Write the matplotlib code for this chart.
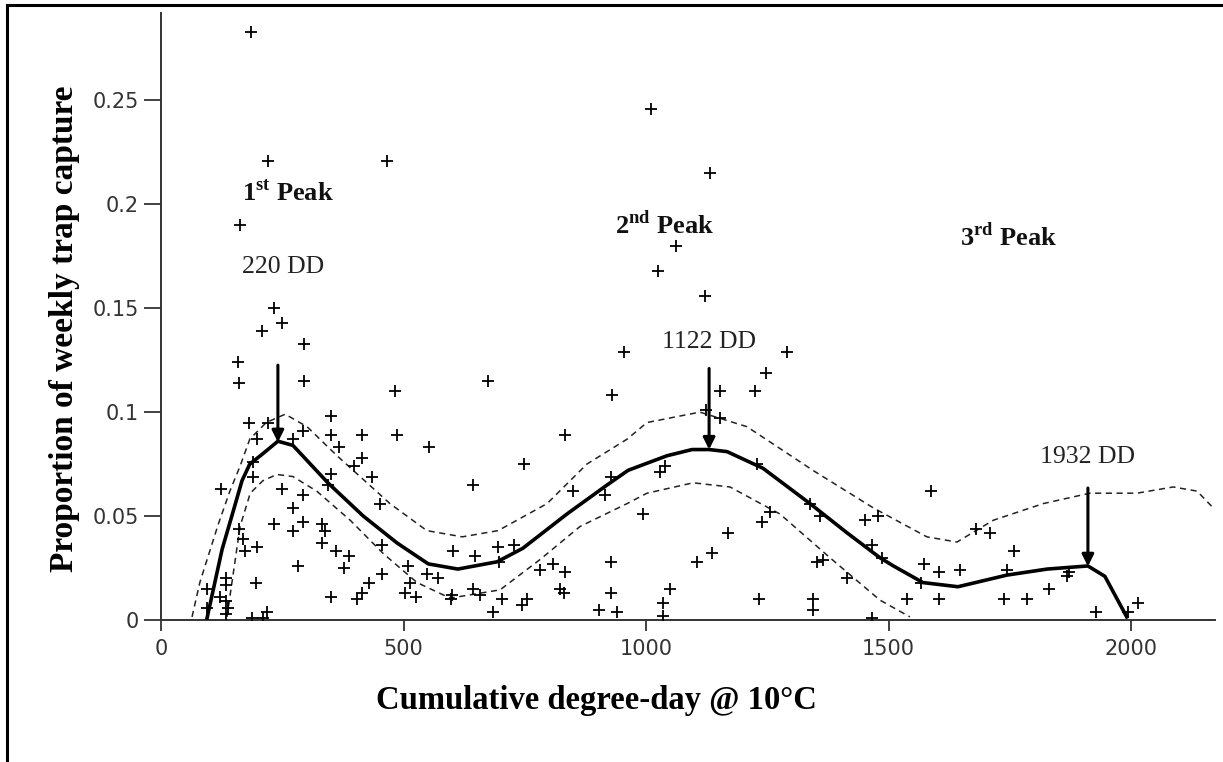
import matplotlib
matplotlib.use("Agg")
import matplotlib.pyplot as plt
from matplotlib.lines import Line2D

plt.rcParams['mathtext.fontset'] = 'custom'
plt.rcParams['mathtext.rm'] = 'Liberation Serif'
plt.rcParams['mathtext.bf'] = 'Liberation Serif:bold'

# ---- observed weekly trap capture (degree-days, proportion) ----
obs_dd = [186, 220, 466, 163, 233, 249, 208, 295, 159, 161, 295, 482, 674, 181, 221,
          351, 293, 198, 351, 414, 487, 553, 272, 367, 414, 398, 190, 189, 350, 344,
          435, 643, 124, 249, 293, 272, 452, 161, 233, 293, 272, 332, 338, 169, 173,
          198, 332, 361, 388, 456, 282, 377, 509, 602, 648, 695, 134, 134, 196, 95,
          456, 429, 513, 548, 571, 122, 134, 138, 134, 351, 414, 404, 503, 526, 600,
          643, 658, 685, 218, 187, 210, 95,
          930, 833, 748, 849, 928, 915, 728, 697, 781, 808, 833, 928, 598, 703, 755,
          745, 823, 831, 928, 903, 940,
          955, 1291, 1247, 1153, 1225, 1124, 1153, 1039, 1029, 1229, 1338, 1359, 994,
          1256, 1239, 1169, 1452, 1478, 1466, 1136, 1105, 1353, 1365, 1414, 1049, 1233,
          1344, 1344, 1035, 1035, 1466, 1010, 1132, 1062, 1025, 1122,
          1588, 1680, 1709, 1486, 1759, 1573, 1604, 1647, 1744, 1868, 1872, 1567, 1831,
          1538, 1604, 1738, 1786, 1928, 2014, 1994]
obs_prop = [0.283, 0.221, 0.221, 0.190, 0.150, 0.143, 0.139, 0.133, 0.124, 0.114, 0.115,
            0.110, 0.115, 0.095, 0.095, 0.098, 0.091, 0.087, 0.089, 0.089, 0.089, 0.083,
            0.087, 0.083, 0.078, 0.074, 0.076, 0.069, 0.070, 0.065, 0.069, 0.065, 0.063,
            0.063, 0.060, 0.054, 0.056, 0.044, 0.046, 0.047, 0.043, 0.046, 0.043, 0.039,
            0.033, 0.035, 0.037, 0.033, 0.031, 0.036, 0.026, 0.025, 0.026, 0.033, 0.031,
            0.035, 0.020, 0.017, 0.018, 0.015, 0.022, 0.018, 0.018, 0.022, 0.020, 0.011,
            0.009, 0.006, 0.003, 0.011, 0.013, 0.010, 0.013, 0.011, 0.012, 0.015, 0.012,
            0.004, 0.004, 0.001, 0.001, 0.006,
            0.108, 0.089, 0.075, 0.062, 0.069, 0.060, 0.036, 0.028, 0.024, 0.027, 0.023,
            0.028, 0.010, 0.010, 0.010, 0.007, 0.015, 0.013, 0.013, 0.005, 0.004,
            0.129, 0.129, 0.119, 0.110, 0.110, 0.101, 0.097, 0.074, 0.071, 0.075, 0.056,
            0.050, 0.051, 0.052, 0.047, 0.042, 0.048, 0.050, 0.036, 0.032, 0.028, 0.028,
            0.029, 0.020, 0.015, 0.010, 0.010, 0.005, 0.008, 0.002, 0.001, 0.246, 0.215,
            0.180, 0.168, 0.156,
            0.062, 0.044, 0.042, 0.030, 0.033, 0.027, 0.023, 0.024, 0.024, 0.021, 0.023,
            0.018, 0.015, 0.010, 0.010, 0.010, 0.010, 0.004, 0.008, 0.004]

# ---- fitted curve ----
fit_dd = [95, 126, 146, 167, 183, 210, 241, 272, 344, 417, 487, 551, 612, 693, 746, 837,
          920, 963, 1043, 1095, 1130, 1167, 1241, 1338, 1414, 1482, 1510, 1571, 1643,
          1744, 1827, 1911, 1946, 1991]
fit_prop = [0.001, 0.034, 0.050, 0.067, 0.075, 0.080, 0.086, 0.084, 0.066, 0.050, 0.037,
            0.027, 0.0245, 0.028, 0.0345, 0.051, 0.065, 0.072, 0.079, 0.082, 0.082, 0.081,
            0.073, 0.056, 0.042, 0.030, 0.026, 0.018, 0.016, 0.0216, 0.0245, 0.026, 0.021,
            0.0015]

# ---- upper confidence band ----
upper_dd = [64, 80, 118, 142, 163, 183, 217, 256, 301, 363, 472, 548, 621, 695, 796, 878,
            961, 1002, 1111, 1208, 1344, 1468, 1579, 1641, 1716, 1819, 1915, 2012, 2087,
            2136, 2169]
upper_prop = [0.0015, 0.018, 0.046, 0.062, 0.074, 0.087, 0.095, 0.099, 0.093, 0.079,
              0.056, 0.043, 0.040, 0.043, 0.056, 0.075, 0.087, 0.095, 0.100, 0.093, 0.072,
              0.054, 0.040, 0.0375, 0.048, 0.056, 0.061, 0.061, 0.064, 0.062, 0.054]

# ---- lower confidence band ----
lower_dd = [136, 163, 184, 210, 239, 272, 321, 390, 458, 528, 596, 699, 781, 864, 961,
            1002, 1097, 1173, 1276, 1379, 1482, 1544]
lower_prop = [0.0015, 0.045, 0.061, 0.067, 0.070, 0.069, 0.062, 0.048, 0.032, 0.018,
              0.0105, 0.0145, 0.029, 0.045, 0.056, 0.061, 0.066, 0.064, 0.051, 0.030,
              0.0096, 0.0015]

# ---- peak annotations ----
peak_titles = ['1', '2', '3']
peak_sups = ['st', 'nd', 'rd']
peak_title_x = [167, 936, 1647]
peak_title_y = [0.202, 0.186, 0.180]
peak_dd_labels = ['220 DD', '1122 DD', '1932 DD']
peak_label_x = [167, 1033, 1812]
peak_label_y = [0.167, 0.1308, 0.0755]
arrow_x = [241, 1130, 1911]
arrow_top = [0.1226, 0.121, 0.0635]
arrow_tip = [0.0855, 0.082, 0.0258]

x_ticks = [0, 500, 1000, 1500, 2000]
x_tick_labels = ['0', '500', '1000', '1500', '2000']
y_ticks = [0, 0.05, 0.1, 0.15, 0.2, 0.25]
y_tick_labels = ['0', '0.05', '0.1', '0.15', '0.2', '0.25']

W, H = 1223, 762
fig = plt.figure(figsize=(W / 100, H / 100), dpi=100)
ax = fig.add_axes([161 / W, 1 - 620 / H, (1215 - 161) / W, (620 - 13) / H])
ax.set_xlim(0, 2173)
ax.set_ylim(0, 0.292)

ax.plot(obs_dd, obs_prop, linestyle='none', marker='+', markersize=8.5,
        markeredgewidth=1.3, color='black', zorder=3)
ax.plot(fit_dd, fit_prop, color='black', lw=2.6, solid_joinstyle='round', zorder=4)
for xs, ys in [(upper_dd, upper_prop), (lower_dd, lower_prop)]:
    ln, = ax.plot(xs, ys, color='#222222', lw=1.1, zorder=2)
    ln.set_dashes((4, 3))

for x, top, tip in zip(arrow_x, arrow_top, arrow_tip):
    ax.annotate('', xy=(x, tip), xytext=(x, top),
                arrowprops=dict(arrowstyle='-|>,head_length=0.5,head_width=0.25',
                                lw=2.2, color='black', mutation_scale=14,
                                shrinkA=0, shrinkB=0), zorder=5)

for t, s, x, y in zip(peak_titles, peak_sups, peak_title_x, peak_title_y):
    ax.text(x, y, r'$\mathbf{' + t + r'}^{\mathbf{' + s + r'}}$ Peak',
            fontfamily='Liberation Serif', fontweight='bold', fontsize=19,
            ha='left', va='baseline', color='#111111')
for lab, x, y in zip(peak_dd_labels, peak_label_x, peak_label_y):
    ax.text(x, y, lab, fontfamily='Liberation Serif', fontsize=18.5,
            ha='left', va='baseline', color='#222222')

for sp in ['top', 'right']:
    ax.spines[sp].set_visible(False)
for sp in ['left', 'bottom']:
    ax.spines[sp].set_color('#333333')
    ax.spines[sp].set_linewidth(1.4)
ax.set_xticks(x_ticks)
ax.set_xticklabels(x_tick_labels)
ax.set_yticks(y_ticks)
ax.set_yticklabels(y_tick_labels)
ax.tick_params(axis='y', direction='out', length=12, width=1.3, color='#333333',
               labelsize=15, labelcolor='#333333', pad=4)
ax.tick_params(axis='x', direction='out', length=8, width=1.3, color='#333333',
               labelsize=15, labelcolor='#333333', pad=6)
for lbl in ax.get_xticklabels() + ax.get_yticklabels():
    lbl.set_fontfamily('DejaVu Sans')

fig.text(65 / W, 1 - 329 / H, 'Proportion of weekly trap capture',
         fontfamily='Liberation Serif', fontweight='bold', fontsize=24,
         rotation=90, ha='center', va='center')
fig.text(596 / W, 1 - 700 / H, 'Cumulative degree-day @ 10°C',
         fontfamily='Liberation Serif', fontweight='bold', fontsize=23.5,
         ha='center', va='center')

# outer frame lines (top and left)
fig.add_artist(Line2D([7 / W, 7 / W], [0, 1 - 5 / H], transform=fig.transFigure,
                      color='black', lw=2.2))
fig.add_artist(Line2D([7 / W, 1], [1 - 5 / H, 1 - 5 / H], transform=fig.transFigure,
                      color='black', lw=2.2))

fig.savefig('out.png', dpi=100)
